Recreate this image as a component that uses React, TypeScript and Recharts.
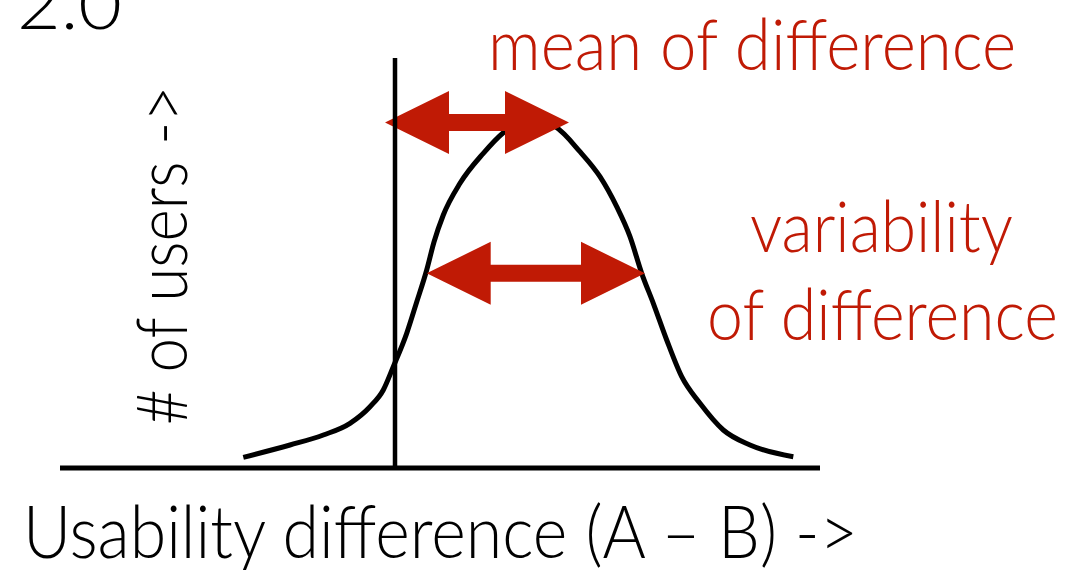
import React from "react";
import { ComposedChart, Line, XAxis, YAxis, ReferenceLine } from "recharts";

const curveX = [-1.517, -1.05, -0.717, -0.45, -0.25, -0.117, -0.017, 0.117, 0.217, 0.317, 0.39, 0.483, 0.65, 0.883, 1.083, 1.35, 1.603, 1.85, 2.05, 2.217, 2.35, 2.467, 2.583, 2.717, 2.867, 3.05, 3.283, 3.55, 3.983];
const curveY = [0.107, 0.23, 0.33, 0.447, 0.613, 0.78, 1.013, 1.347, 1.66, 1.98, 2.26, 2.53, 2.847, 3.147, 3.353, 3.49, 3.413, 3.163, 2.913, 2.613, 2.313, 1.947, 1.647, 1.28, 0.913, 0.647, 0.38, 0.23, 0.113];

const meanArrow = { from: -0.1, to: 1.74, y: 3.455 };
const spreadArrow = { from: 0.317, to: 2.5, y: 1.947 };

const xLabel = "Usability difference (A \u2013 B) ->";
const yLabel = "# of users ->";
const topLabel = "2.0";
const meanLabel = "mean of difference";
const varLabel1 = "variability";
const varLabel2 = "of difference";

const data = curveX.map((x, i) => ({ x, y: curveY[i] }));

const RED = "#c01a05";
const FONT = "Lato, 'Open Sans', sans-serif";
const W = 300;

const DoubleArrow = (props: any) => {
  const { x1, y1, x2 } = props;
  const y = y1;
  const L = 64, H = 31.5, T = 8.5;
  const pts = [
    [x1, y], [x1 + L, y - H], [x1 + L, y - T], [x2 - L, y - T], [x2 - L, y - H],
    [x2, y], [x2 - L, y + H], [x2 - L, y + T], [x1 + L, y + T], [x1 + L, y + H],
  ].map((p) => p.join(",")).join(" ");
  return <polygon points={pts} fill={RED} />;
};

export default function App() {
  return (
    <div style={{ position: "absolute", left: 0, top: 0, width: 1068, height: 570, background: "#fff" }}>
      <ComposedChart width={1068} height={570} data={data} margin={{ top: 58, right: 248, bottom: 102, left: 60 }}>
        <XAxis type="number" dataKey="x" domain={[-3.35, 4.25]} hide allowDataOverflow />
        <YAxis type="number" domain={[0, 4.1]} hide allowDataOverflow />
        <Line type="monotone" dataKey="y" stroke="#000" strokeWidth={5} dot={false} isAnimationActive={false} />
        <ReferenceLine segment={[{ x: meanArrow.from, y: meanArrow.y }, { x: meanArrow.to, y: meanArrow.y }]} shape={DoubleArrow} />
        <ReferenceLine segment={[{ x: spreadArrow.from, y: spreadArrow.y }, { x: spreadArrow.to, y: spreadArrow.y }]} shape={DoubleArrow} />
        <ReferenceLine x={0} stroke="#000" strokeWidth={4.5} />
        <ReferenceLine y={0} stroke="#000" strokeWidth={5} />
        <text x={17} y={29} fontFamily={FONT} fontWeight={W} fontSize={70} fill="#000" textLength={105} lengthAdjust="spacingAndGlyphs">{topLabel}</text>
        <text x={23} y={558} fontFamily={FONT} fontWeight={W} fontSize={72} fill="#000" textLength={835} lengthAdjust="spacingAndGlyphs">{xLabel}</text>
        <text x={0} y={0} transform="translate(187,425) rotate(-90)" fontFamily={FONT} fontWeight={W} fontSize={70} fill="#000" textLength={339} lengthAdjust="spacingAndGlyphs">{yLabel}</text>
        <text x={488} y={70} fontFamily={FONT} fontWeight={W} fontSize={70} fill={RED} textLength={528} lengthAdjust="spacingAndGlyphs">{meanLabel}</text>
        <text x={750} y={252} fontFamily={FONT} fontWeight={W} fontSize={70} fill={RED} textLength={263} lengthAdjust="spacingAndGlyphs">{varLabel1}</text>
        <text x={707} y={340} fontFamily={FONT} fontWeight={W} fontSize={70} fill={RED} textLength={351} lengthAdjust="spacingAndGlyphs">{varLabel2}</text>
      </ComposedChart>
    </div>
  );
}
